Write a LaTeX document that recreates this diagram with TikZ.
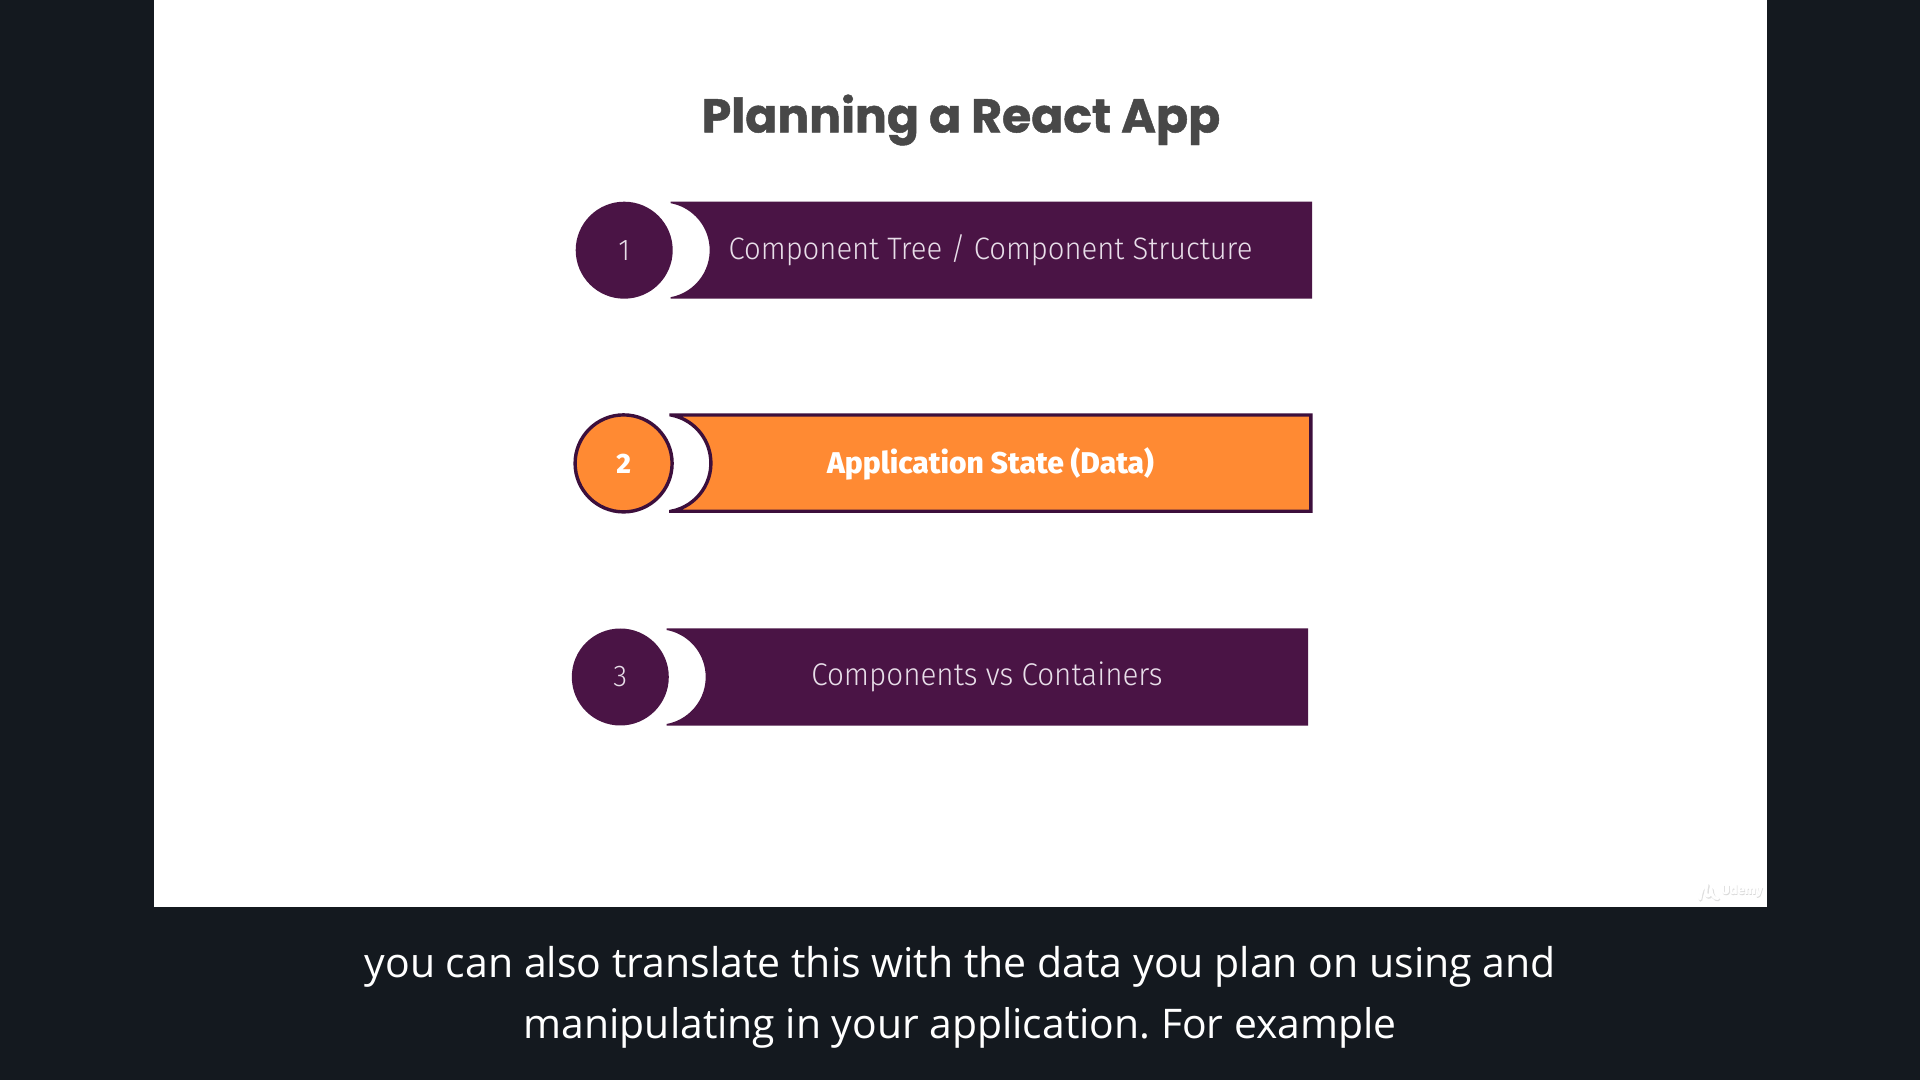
\documentclass[tikz,border=0pt]{standalone}
\usepackage{fontspec}
\setmainfont{Open Sans}
\newfontfamily\titlefont{Poppins}[BoldFont={Poppins Bold},FakeBold=1.0]
\newfontfamily\barfont{Fira Sans Light}[FakeStretch=0.943,Numbers=Lining]
\newfontfamily\barboldfont{Fira Sans Medium}[Numbers=Lining]
\newfontfamily\capfont{Open Sans}
\definecolor{bgdark}{HTML}{14191F}
\definecolor{plum}{HTML}{4A1445}
\definecolor{plumline}{HTML}{3C0F3C}
\definecolor{tangerine}{HTML}{FF8A33}
\definecolor{titlegray}{HTML}{484848}
\definecolor{lilac}{HTML}{E8DEE9}
\tikzset{
  x=1pt,y=1pt,
  numcirc/.style={circle,minimum size=97pt,inner sep=0pt,fill=plum,text=lilac,font=\barfont\fontsize{30}{32}\selectfont},
  numhot/.style={numcirc,fill=tangerine,draw=plumline,line width=3.4pt,minimum size=97pt,text=white,font=\barboldfont\bfseries\fontsize{28}{30}\selectfont},
  barlabel/.style={text=lilac,inner sep=0pt,font=\barfont\fontsize{31}{34}\selectfont},
  barlabelwide/.style={barlabel,font=\barfont\fontsize{31.4}{34}\selectfont},
  barhot/.style={text=white,inner sep=0pt,font=\barboldfont\bfseries\fontsize{30}{34}\selectfont},
  caption/.style={text=white,inner sep=0pt,font=\capfont\fontsize{41}{50}\selectfont},
  captiontight/.style={text=white,inner sep=0pt,font=\capfont\fontsize{40.85}{50}\selectfont},
}
\frenchspacing
\begin{document}
\begin{tikzpicture}
\useasboundingbox (0,0) rectangle (1920,1080);
\fill[bgdark] (0,0) rectangle (1920,1080);
\fill[white] (154,173) rectangle (1767,1080);
% title
\node[text=titlegray,inner sep=0pt,font=\titlefont\bfseries\fontsize{47.3}{56}\selectfont] (title) at (961,960) {Planning a React App};
% row 1
\fill[plum] (670.6,878.3) -- (1312,878.3) -- (1312,781.3) -- (670.6,781.3) -- (670.6,782.8) arc[start angle=-79.5,end angle=79.5,radius=47.8] -- cycle;
\node[numcirc] (c1) at (624.2,829.8) {1};
\node[barlabel] (t1) at (990.5,829.5) {Component Tree / Component Structure};
% row 2
\begin{scope}
\clip (669,400) rectangle (1330,700);
\draw[fill=tangerine,draw=plumline,line width=3.4pt] (671,665) -- (1310.9,665) -- (1310.9,568.7) -- (671,568.7) arc[start angle=-79.3,end angle=79.3,radius=49] -- cycle;
\end{scope}
\node[numhot] (c2) at (623.6,616.6) {2};
\node[barhot] (t2) at (990.5,616) {Application State (Data)};
% row 3
\fill[plum] (666.6,451.7) -- (1308,451.7) -- (1308,354.3) -- (666.6,354.3) -- (666.6,356) arc[start angle=-79.5,end angle=79.5,radius=47.8] -- cycle;
\node[numcirc] (c3) at (620.3,403) {3};
\node[barlabelwide] (t3) at (987,403) {Components vs Containers};
% watermark
\draw[gray!25,line width=3.6pt,line cap=round,line join=round] (1700.5,180) .. controls (1702,190) and (1706,196) .. (1708,194) .. controls (1704,180) and (1712,180) .. (1712,190) .. controls (1712,184) and (1715,180) .. (1718.5,180.5);
\draw[white,line width=3pt,line cap=round,line join=round] (1700,181) .. controls (1701,191) and (1705,197) .. (1707,195) .. controls (1703,181) and (1711,181) .. (1711,191) .. controls (1711,185) and (1714,181) .. (1718,181.5);
\node[text=gray!30,inner sep=0pt,font=\barboldfont\bfseries\fontsize{13}{15}\selectfont] (u0) at (1742.6,188.4) {Udemy};
\node[text=white,inner sep=0pt,font=\barboldfont\bfseries\fontsize{13}{15}\selectfont] (u1) at (1742,189) {Udemy};
% captions
\node[caption] (cap1) at (960.2,113) {you can also translate this with the data you plan on using and};
\node[captiontight] (cap2) at (960.2,52) {manipulating in your application. For example};
\end{tikzpicture}
\end{document}
